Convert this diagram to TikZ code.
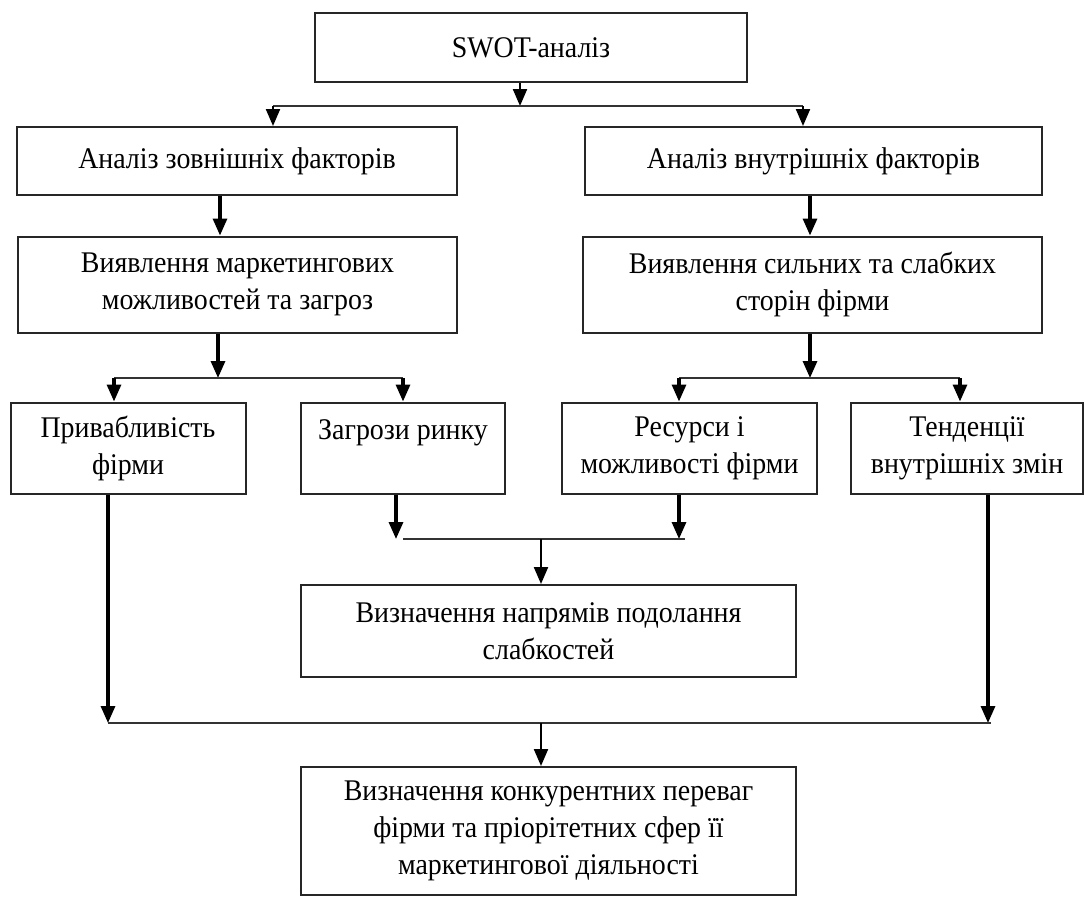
\documentclass[tikz,border=0pt]{standalone}
\usepackage{fontspec}
\setmainfont{Liberation Serif}[FakeStretch=0.93]
\usetikzlibrary{arrows.meta}
\begin{document}
\begin{tikzpicture}[x=1pt,y=-1pt,
  box/.style={draw=black!85, line width=2pt, inner sep=0pt, align=center,
    font=\fontsize{30}{37}\selectfont},
  tip/.style={-{Triangle[length=17pt,width=14pt]}},
  hline/.style={line width=2pt, draw=black!80},
  thinln/.style={line width=2.2pt},
  thickln/.style={line width=3.2pt}]
\useasboundingbox (0,0) rectangle (1085,905);
\fill[white] (0,0) rectangle (1085,905);

% boxes
\node[box, minimum width=432, minimum height=69] (swot) at (531,47.5) {SWOT-аналіз};
\node[box, minimum width=440, minimum height=68] (a) at (237,161) {Аналіз зовнішніх факторів};
\node[box, minimum width=457, minimum height=68] (b) at (813.5,161) {Аналіз внутрішніх факторів};
\node[box, minimum width=439, minimum height=96] (c) at (237.5,284.5) {Виявлення маркетингових\\можливостей та загроз};
\node[box, minimum width=459, minimum height=96] (d) at (812.5,284.5) {Виявлення сильних та слабких\\сторін фірми};
\node[box, minimum width=235, minimum height=91] (e) at (128,448) {Привабливість\\фірми};
\node[box, minimum width=204, minimum height=91] (f) at (403,448) {Загрози ринку\\\mbox{}};
\node[box, minimum width=255, minimum height=91] (g) at (689.5,448) {Ресурси і\\можливості фірми};
\node[box, minimum width=232, minimum height=91] (h) at (967,448) {Тенденції\\внутрішніх змін};
\node[box, minimum width=495, minimum height=92] (i) at (548.5,631) {Визначення напрямів подолання\\слабкостей};
\node[box, minimum width=495, minimum height=128] (j) at (548.5,831) {Визначення конкурентних переваг\\фірми та пріорітетних сфер її\\маркетингової діяльності};

% junction points
\coordinate (t0) at (520,106);
\coordinate (tl) at (273,106);
\coordinate (tr) at (803,106);
\coordinate (xa) at (220,0);
\coordinate (xb) at (810,0);
\coordinate (l0) at (218,378);
\coordinate (ll) at (114,378);
\coordinate (lr) at (403,378);
\coordinate (r0) at (810,378);
\coordinate (rl) at (679,378);
\coordinate (rr) at (960,378);
\coordinate (mf) at (396,539);
\coordinate (mg) at (679,539);
\coordinate (m0) at (541,539);
\coordinate (ms) at (403,539);
\coordinate (me) at (685,539);
\coordinate (be) at (108,723);
\coordinate (bh) at (988,723);
\coordinate (bend) at (991,723);
\coordinate (b0) at (541,723);

% top split
\draw[thinln,tip] (t0 |- swot.south) -- (t0);
\draw[hline] (tl) -- (tr);
\draw[thinln,tip] (tl) -- (tl |- a.north);
\draw[thinln,tip] (tr) -- (tr |- b.north);

% second level
\draw[thickln,tip] (a.south -| xa) -- (c.north -| xa);
\draw[thickln,tip] (b.south -| xb) -- (d.north -| xb);

% left split
\draw[thickln,tip] (c.south -| l0) -- (l0);
\draw[hline] (ll) -- (lr);
\draw[thickln,tip] (ll) -- (ll |- e.north);
\draw[thickln,tip] (lr) -- (lr |- f.north);

% right split
\draw[thickln,tip] (d.south -| r0) -- (r0);
\draw[hline] (rl) -- (rr);
\draw[thickln,tip] (rl) -- (rl |- g.north);
\draw[thickln,tip] (rr) -- (rr |- h.north);

% merge into weaknesses box
\draw[thickln,tip] (f.south -| mf) -- (mf);
\draw[thickln,tip] (g.south -| mg) -- (mg);
\draw[hline] (ms) -- (me);
\draw[thinln,tip] (m0) -- (m0 |- i.north);

% outer merge into final box
\draw[thickln,tip] (e.south -| be) -- (be);
\draw[thickln,tip] (h.south -| bh) -- (bh);
\draw[hline] (be) -- (bend);
\draw[thinln,tip] (b0) -- (b0 |- j.north);
\end{tikzpicture}
\end{document}
